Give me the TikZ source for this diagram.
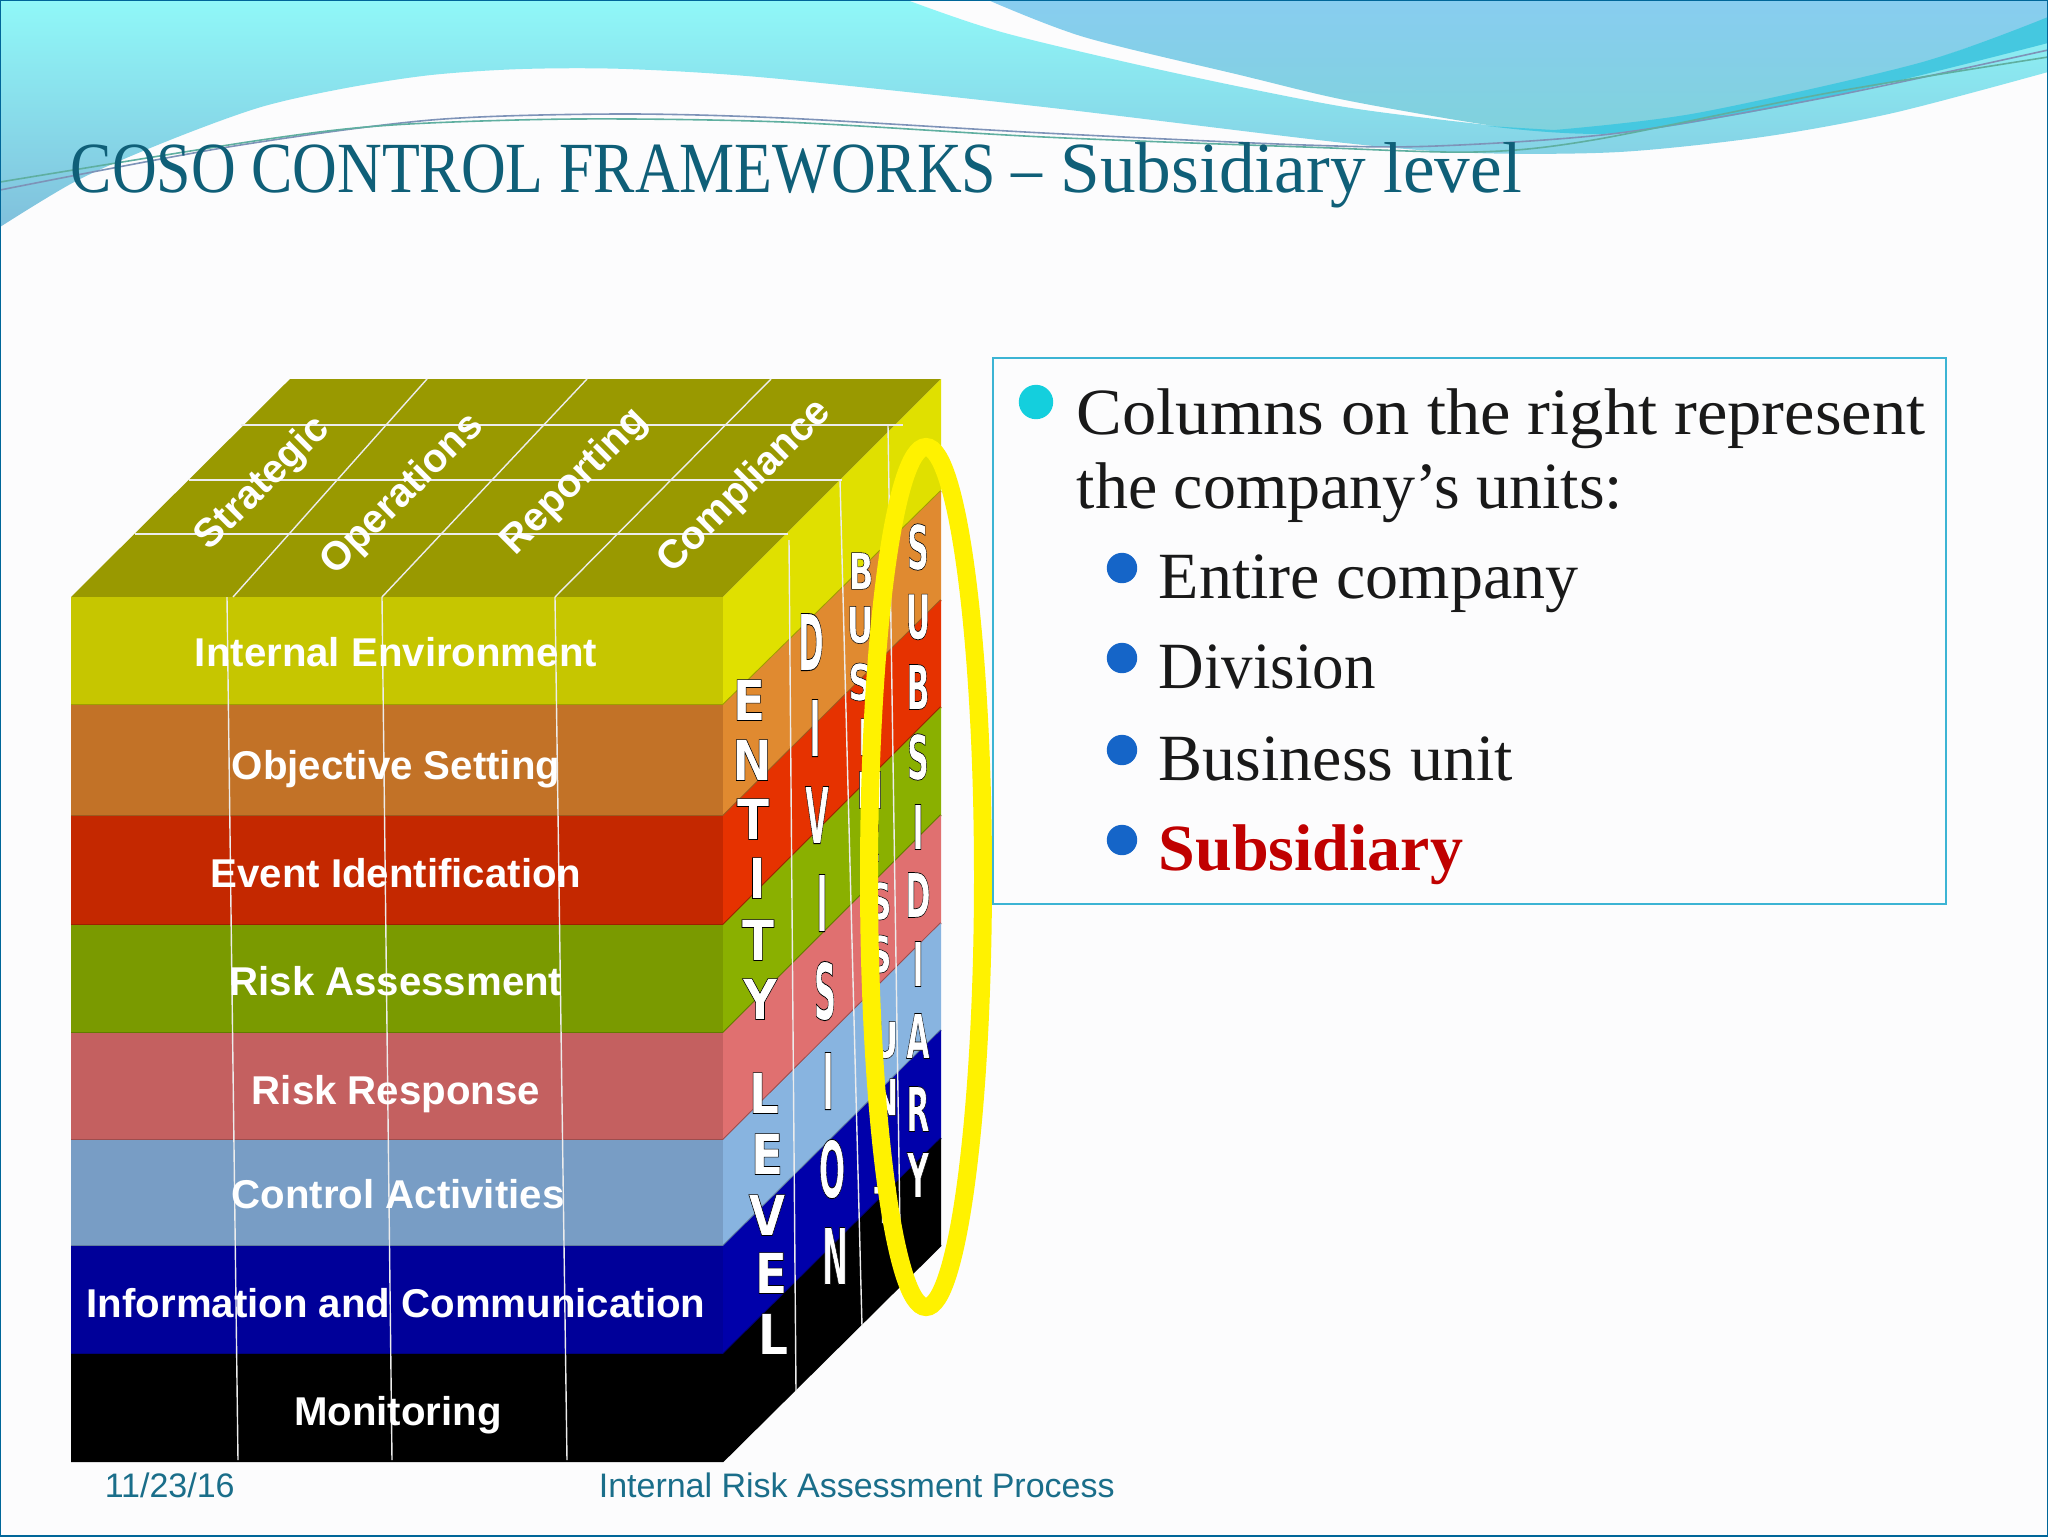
\documentclass[tikz,border=0pt]{standalone}
\usepackage{fontspec}
\usepackage{graphicx}
\usepackage{xcolor}
\setmainfont{Liberation Serif}
\newfontfamily\arial{Liberation Sans}
\newfontfamily\heavy{DejaVu Sans}
\usetikzlibrary{positioning}
\definecolor{paper}{HTML}{FCFCFD}
\definecolor{topface}{HTML}{999900}
\definecolor{titleink}{HTML}{0F5F78}
\definecolor{footink}{HTML}{1A6E8A}
\definecolor{boxline}{HTML}{3CB4D4}
\definecolor{dotone}{HTML}{14CFDD}
\definecolor{dottwo}{HTML}{1565C8}
\definecolor{subred}{HTML}{C00000}
\definecolor{waveA}{HTML}{90F8F8}\definecolor{waveB}{HTML}{80C0DC}
\definecolor{waveC}{HTML}{88CDF0}\definecolor{waveD}{HTML}{80D2DC}
\definecolor{ribbon}{HTML}{45C8E0}
\definecolor{swooshA}{HTML}{7E93B8}\definecolor{swooshB}{HTML}{5FAFA0}
\definecolor{yelF}{HTML}{C6C600}\definecolor{yelS}{HTML}{E0E000}
\definecolor{oraF}{HTML}{C27227}\definecolor{oraS}{HTML}{E08A30}
\definecolor{redF}{HTML}{C42800}\definecolor{redS}{HTML}{E63200}
\definecolor{greF}{HTML}{7A9A00}\definecolor{greS}{HTML}{8AB000}
\definecolor{pinF}{HTML}{C46060}\definecolor{pinS}{HTML}{E07070}
\definecolor{bluF}{HTML}{789DC5}\definecolor{bluS}{HTML}{88B4E0}
\definecolor{navF}{HTML}{000099}\definecolor{navS}{HTML}{0000AA}
\definecolor{blaF}{HTML}{000000}\definecolor{blaS}{HTML}{000000}
\newcommand{\outlined}[1]{\special{pdf:code 2 Tr 0.16 w 0 G}#1\special{pdf:code 0 Tr}}
\tikzstyle{slide}=[x=0.25pt, y=-0.25pt]
\tikzstyle{gridline}=[white!85!gray, line width=0.35pt]
\tikzstyle{rowlabel}=[text=white, font=\arial\bfseries\fontsize{10.05}{12}\selectfont]
\tikzstyle{toplabel}=[text=white, rotate=45, font=\arial\bfseries\fontsize{10}{12}\selectfont]
\tikzstyle{letter}=[text=white, inner sep=0pt, transform shape, font=\heavy\bfseries\fontsize{14}{14}\selectfont]
\tikzstyle{body}=[anchor=base west, inner sep=0pt, text=black!90, transform shape, font=\fontsize{16.5}{18}\selectfont]
\tikzstyle{dotA}=[circle, fill=dotone, minimum size=8.6pt, inner sep=0pt]
\tikzstyle{dotB}=[circle, fill=dottwo, minimum size=7.6pt, inner sep=0pt]
\tikzstyle{foot}=[anchor=base west, inner sep=0pt, text=footink, font=\arial\fontsize{8.5}{10}\selectfont]
\begin{document}
\begin{tikzpicture}[slide]
  \useasboundingbox (0,0) rectangle (2048,1536);
  \fill[paper] (0,0) rectangle (2048,1536);

  % waves
  \shade[top color=waveA, bottom color=waveB]
    plot[smooth, tension=0.5] coordinates {(0,227) (78,180) (170,140) (261,107) (346,88) (431,75) (522,69) (627,69) (770,78) (1044,107) (1345,143) (1475,153) (1619,152) (1762,137) (1893,113) (2048,72)}
    -- (2048,40) -- (1488,125)
    -- plot[smooth, tension=0.5] coordinates {(1488,125) (1345,107) (1175,73) (1005,33) (907,0)}
    -- (0,0) -- cycle;
  \shade[top color=waveC, bottom color=waveD]
    (988,0) -- (2048,0) -- (2048,20)
    -- plot[smooth, tension=0.5] coordinates {(2048,20) (1828,93) (1671,123) (1567,132) (1488,125) (1345,100) (1240,75) (1084,37) (988,0)} -- cycle;
  \fill[ribbon]
    plot[smooth, tension=0.5] coordinates {(1488,126) (1619,133) (1828,97) (2048,43)}
    -- plot[smooth, tension=0.5] coordinates {(2048,17) (1919,63) (1697,113) (1554,130)} -- cycle;
  \draw[swooshA, line width=0.4pt] plot[smooth] coordinates {(0,190) (228,147) (431,120) (614,114) (783,118) (1044,133) (1305,145) (1436,146) (1619,133) (1828,97) (2048,50)};
  \draw[swooshB, line width=0.4pt] plot[smooth] coordinates {(0,182) (261,140) (392,125) (574,119) (783,122) (1044,137) (1305,147) (1475,152) (1593,140) (1828,93) (2048,57)};

  % title
  \node[anchor=base west, inner sep=0pt, text=titleink, font=\fontsize{18}{20}\selectfont] (title) at (70,192)
    {\scalebox{0.86}[1]{COSO CONTROL FRAMEWORKS --} \scalebox{0.99}[1]{Subsidiary level}};

  % cube
  \fill[topface] (71,597) -- (290,379) -- (941,379) -- (723,597) -- cycle;
  \foreach \ya/\yb/\ra/\rb/\tone in {597/705/379/491/yel,
      705/816/491/600/ora, 816/925/600/707/red, 925/1033/707/815/gre,
      1033/1140/815/923/pin, 1140/1246/923/1030/blu, 1246/1354/1030/1138/nav, 1354/1461/1138/1245/bla} {
    \fill[\tone F] (71,\ya) rectangle (723,\yb);
    \fill[\tone S] (723,\ya) -- (941,\ra) -- (941,\rb) -- (723,\yb) -- cycle;
    \draw[\tone F!80!black, line width=0.5pt] (71,\yb) -- (723,\yb) -- (941,\rb);
  }

  % grid
  \foreach \xa/\xb/\xc/\xd in {427/233/227/238, 587/382/382/392, 771/555/555/567} {
    \draw[gridline] (\xa,379) -- (\xb,597);
    \draw[gridline] (\xc,597) -- (\xd,1460);
  }
  \draw[gridline] (135,534) -- (788,534);
  \draw[gridline] (189,480) -- (842,480);
  \draw[gridline] (241,425) -- (903,425);
  \draw[gridline] (789,540) -- (796,1391);
  \draw[gridline] (840,480) -- (862,1326);
  \draw[gridline] (888,425) -- (900,1228);

  % front labels
  \node[rowlabel] (env)  at (396,652)  {Internal Environment};
  \node[rowlabel] (obj)  at (396,769)  {Objective Setting};
  \node[rowlabel] (evt)  at (396,873)  {Event Identification};
  \node[rowlabel] (ass)  at (396,981)  {Risk Assessment};
  \node[rowlabel] (res)  at (396,1094) {Risk Response};
  \node[rowlabel] (act)  at (398,1194) {Control Activities};
  \node[rowlabel] (inf)  at (396,1303) {Information and Communication};
  \node[rowlabel] (mon)  at (398,1415) {Monitoring};

  % top labels
  \node[toplabel] (str) at (263,484) {Strategic};
  \node[toplabel] (ope) at (403,495) {Operations};
  \node[toplabel] (rep) at (575,482) {Reporting};
  \node[toplabel] (com) at (745,487) {Compliance};

  % side columns
  \foreach \x/\y/\c [count=\i] in {749/700/E, 752/760/N, 753/819/T, 757/878/I, 758/940/T, 760/999/Y,
      764/1093/L, 767/1154/E, 767/1215/V, 771/1273/E, 773/1334/L}
    \node[letter, xscale=0.85] (ent\i) at (\x,\y) {\outlined{\c}};
  \foreach \x/\y/\c [count=\i] in {811/642/D, 815/728/I, 817/815/V, 822/903/I, 825/991/S, 828/1081/I, 832/1169/O, 835/1256/N}
    \node[letter, xscale=0.55, yscale=1.4] (div\i) at (\x,\y) {\outlined{\c}};
  \foreach \x/\y/\c [count=\i] in {861/571/B, 860/625/U, 860/682/S, 864/737/I, 870/790/N, 870/843/E, 880/901/S, 880/954/S,
      885/1040/U, 885/1097/N, 885/1150/I, 885/1205/T}
    \node[letter, xscale=0.58, yscale=0.9] (bus\i) at (\x,\y) {\outlined{\c}};
  \foreach \x/\y/\c [count=\i] in {918/547/S, 918/617/U, 918/687/B, 918/757/S, 918/827/I, 918/895/D, 918/964/I, 918/1036/A, 918/1109/R, 918/1175/Y}
    \node[letter, xscale=0.54, yscale=1.1] (sub\i) at (\x,\y) {\outlined{\c}};

  % ring
  \draw[yellow, line width=4.5pt] (926,877) ellipse [x radius=57, y radius=430];

  % text box
  \draw[boxline, line width=0.5pt] (993,358) rectangle (1946,904);
  \node[dotA] (b0) at (1036,402) {};
  \node[body, xscale=1.038] (l1) at (1076,434) {Columns on the right represent};
  \node[body] (l2) at (1076,508) {the company’s units:};
  \node[dotB] (b1) at (1122,568) {};
  \node[body] (s1) at (1158,598) {Entire company};
  \node[dotB] (b2) at (1122,658) {};
  \node[body, xscale=0.955] (s2) at (1158,688) {Division};
  \node[dotB] (b3) at (1122,750) {};
  \node[body] (s3) at (1158,780) {Business unit};
  \node[dotB] (b4) at (1122,840) {};
  \node[body, text=subred] (s4) at (1158,870) {\bfseries Subsidiary};

  % footer
  \node[foot] (date) at (104,1497) {11/23/16};
  \node[foot] (name) at (598,1497) {Internal Risk Assessment Process};

  \draw[teal!80!blue, line width=0.6pt] (0,0) rectangle (2048,1536);
\end{tikzpicture}
\end{document}
